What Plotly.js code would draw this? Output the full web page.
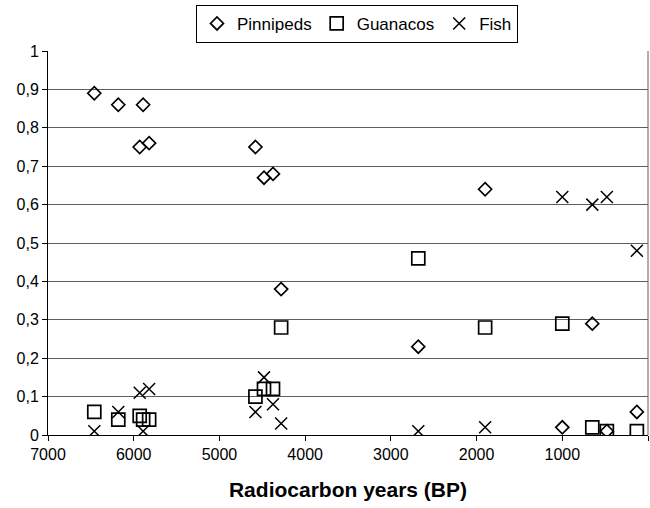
<!DOCTYPE html>
<html>
<head>
<meta charset="utf-8">
<script src="https://cdn.plot.ly/plotly-3.0.1.min.js"></script>
<style>html,body{margin:0;padding:0;background:#fff;}#chart{width:650px;height:508px;}</style>
</head>
<body>
<div id="chart"></div>
<script>
// Radiocarbon ages (BP) of the sampled sites
const ages = [6460, 6180, 5930, 5890, 5820, 4580, 4480, 4375, 4280, 2680, 1900, 1000, 650, 480, 130];
// Proportions by taxon
const pinnipeds = [0.89, 0.86, 0.75, 0.86, 0.76, 0.75, 0.67, 0.68, 0.38, 0.23, 0.64, 0.02, 0.29, 0.01, 0.06];
const guanacos  = [0.06, 0.04, 0.05, 0.04, 0.04, 0.10, 0.12, 0.12, 0.28, 0.46, 0.28, 0.29, 0.02, 0.01, 0.01];
const fish      = [0.01, 0.06, 0.11, 0.01, 0.12, 0.06, 0.15, 0.08, 0.03, 0.01, 0.02, 0.62, 0.60, 0.62, 0.48];
const seriesNames = ['Pinnipeds', 'Guanacos', 'Fish'];
const xTickVals = [7000, 6000, 5000, 4000, 3000, 2000, 1000, 0];
const yTickVals = [0, 0.1, 0.2, 0.3, 0.4, 0.5, 0.6, 0.7, 0.8, 0.9, 1];
const xTitle = 'Radiocarbon years (BP)';

const FONT = 'Liberation Sans, Arial, sans-serif';

const traces = [
  {x: ages, y: pinnipeds, name: seriesNames[0], type: 'scatter', mode: 'markers',
   marker: {symbol: 'diamond-open', size: 10, color: '#000', line: {width: 1.7, color: '#000'}}},
  {x: ages, y: guanacos, name: seriesNames[1], type: 'scatter', mode: 'markers',
   marker: {symbol: 'square-open', size: 13, color: '#000', line: {width: 1.7, color: '#000'}}},
  {x: ages, y: fish, name: seriesNames[2], type: 'scatter', mode: 'markers',
   marker: {symbol: 'x-thin-open', size: 12, color: '#000', line: {width: 1.5, color: '#000'}}}
];

const layout = {
  width: 650, height: 508,
  margin: {l: 48, r: 2, t: 51, b: 73},
  paper_bgcolor: '#fff', plot_bgcolor: '#fff',
  separators: ', ',
  font: {family: FONT, size: 16, color: '#000'},
  showlegend: true,
  legend: {orientation: 'h', x: 0.515, xanchor: 'center', y: 1.12, yanchor: 'top',
           bordercolor: '#000', borderwidth: 1, font: {family: FONT, size: 17, color: '#000'},
           itemwidth: 30, tracegroupgap: 0},
  xaxis: {
    range: [7000, 0], tickvals: xTickVals, showgrid: false, zeroline: false,
    showline: true, linecolor: '#000', linewidth: 1,
    ticks: 'outside', ticklen: 5, tickcolor: '#000',
    tickfont: {family: FONT, size: 16, color: '#000'},
    title: {text: xTitle, font: {family: FONT, size: 21, color: '#000', weight: 'bold'}, standoff: 20}
  },
  yaxis: {
    range: [0, 1], tickvals: yTickVals, showgrid: true, gridcolor: '#5e5e5e', gridwidth: 1,
    zeroline: false, showline: true, linecolor: '#000', linewidth: 1,
    ticks: 'outside', ticklen: 5, tickcolor: '#000',
    tickfont: {family: FONT, size: 16, color: '#000'}
  },
  shapes: [
    {type: 'line', xref: 'paper', yref: 'paper', x0: 1, x1: 1, y0: 0, y1: 1,
     line: {color: '#5e5e5e', width: 1}}
  ]
};

Plotly.newPlot('chart', traces, layout, {displayModeBar: false, staticPlot: true});
</script>
</body>
</html>
